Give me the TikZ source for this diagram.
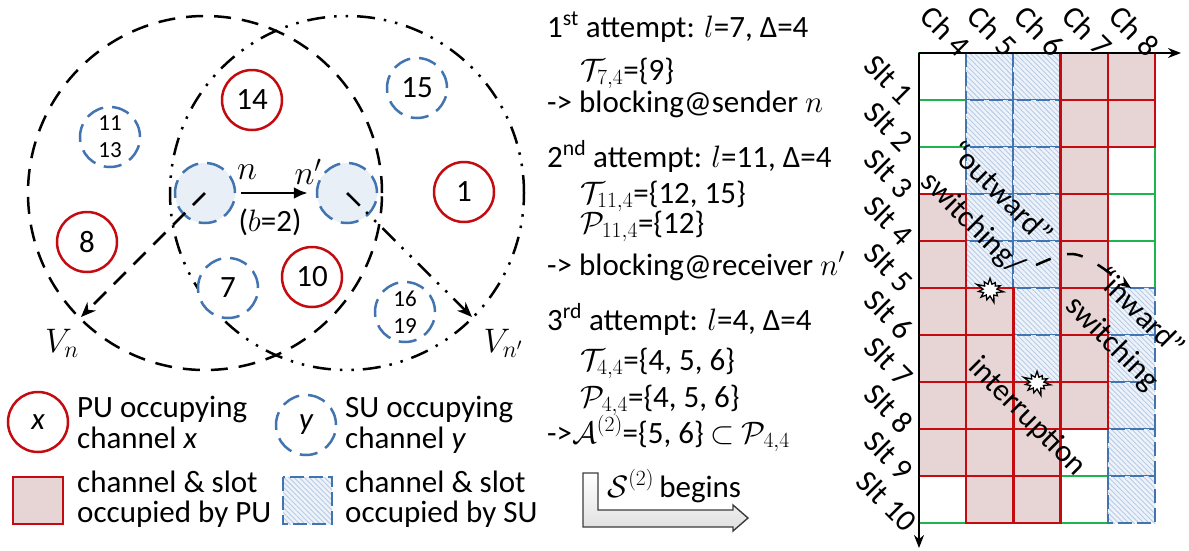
\RequirePackage{fix-cm}
\documentclass[tikz,border=0pt]{standalone}
\usepackage{fontspec}
\setmainfont{Carlito}
\usetikzlibrary{arrows.meta,patterns.meta,shapes.symbols}

\definecolor{pured}{RGB}{196,12,16}
\definecolor{pufill}{RGB}{231,213,213}
\definecolor{sublue}{RGB}{66,116,176}
\definecolor{subfill}{RGB}{238,243,250}
\definecolor{suhatch}{RGB}{182,203,231}
\definecolor{endfill}{RGB}{233,239,247}
\definecolor{freegreen}{RGB}{30,180,80}
\definecolor{arrowedge}{RGB}{60,60,60}

\begin{document}
\begin{tikzpicture}[x=1pt,y=-1pt,
  txt/.style={font=\fontsize{31}{33}\selectfont, inner sep=0pt},
  mlbl/.style={font=\fontsize{34}{36}\selectfont, inner sep=0pt},
  pu/.style={circle, draw=pured, line width=2.5pt, fill=white, minimum size=60pt,
    inner sep=0pt, font=\fontsize{31}{31}\selectfont},
  su/.style={circle, draw=sublue, line width=2.5pt, dash pattern=on 18pt off 9pt,
    fill=white, minimum size=60pt, inner sep=0pt, font=\fontsize{31}{31}\selectfont},
  sutwo/.style={su, font=\fontsize{23}{27}\selectfont, align=center},
  endpt/.style={su, fill=endfill},
  rangeA/.style={black, line width=2.5pt, dash pattern=on 17pt off 11pt},
  rangeB/.style={black, line width=2.5pt,
    dash pattern=on 18pt off 9pt on 2.5pt off 9pt on 2.5pt off 9pt},
  pucell/.style={draw=pured, fill=pufill, line width=2.3pt},
  sucell/.style={preaction={fill=subfill},
    pattern={Lines[angle=-45,distance=3.6pt,line width=0.9pt]},
    pattern color=suhatch, draw=sublue, line width=2pt, dash pattern=on 14pt off 5pt},
  freecell/.style={draw=freegreen, line width=2pt},
  rot/.style={rotate=-45, font=\fontsize{31}{31}\selectfont, inner sep=0pt},
  burst/.style={starburst, draw, fill=white, line width=1.3pt, minimum width=30pt,
    minimum height=28pt, starburst point height=8pt, starburst points=11}
]
\useasboundingbox (0,0) rectangle (1189,550);
\fill[white] (0,0) rectangle (1189,550);

% ---------------- transmission ranges of sender and receiver ----------------
\coordinate (nc) at (205,193);
\coordinate (npc) at (347,193);
\draw[rangeA] (nc) circle[radius=177pt];
\draw[rangeB] (npc) circle[radius=177pt];

% ---------------- users on channels ----------------
\node[pu] (p14) at (252,100) {14};
\node[su] (s15) at (417,88) {15};
\node[pu] (p1) at (464,192) {1};
\node[sutwo] (s1113) at (110,137) {11\\13};
\node[pu] (p8) at (87,242) {8};
\node[su] (s7) at (228,288) {7};
\node[pu] (p10) at (312,277) {10};
\node[sutwo] (s1619) at (405,312) {16\\19};

% sender n and receiver n'
\node[endpt] (n) at (nc) {};
\node[endpt] (np) at (npc) {};
\node[mlbl] (nlbl) at (247,172) {$n$};
\node[mlbl] (nplbl) at (308,172) {$n'$};
\node[txt] (blbl) at (270,222) {($b$=2)};
\draw[black, line width=2.8pt, -{Latex[length=14pt,width=12pt]},
  shorten <=5pt, shorten >=8pt] (n) -- (np);

\coordinate (vn) at (81,317);
\coordinate (vnp) at (472,317);
\draw[rangeA, -{Stealth[length=15pt,width=12pt]}] (nc) -- (vn);
\draw[rangeB, -{Stealth[length=15pt,width=12pt]}] (npc) -- (vnp);
\node[mlbl] (vnlbl) at (62,343) {$V_n$};
\node[mlbl] (vnplbl) at (503,343) {$V_{n'}$};

% ---------------- legend ----------------
\node[pu] (legpu) at (38,422) {\itshape x};
\node[txt, anchor=base west] (legpu1) at (77,417) {PU occupying};
\node[txt, anchor=base west] (legpu2) at (77,448) {channel \textit{x}};
\node[su] (legsu) at (306,425) {\itshape y};
\node[txt, anchor=base west] (legsu1) at (345,417) {SU occupying};
\node[txt, anchor=base west] (legsu2) at (345,448) {channel \textit{y}};
\draw[pucell, line width=2.5pt] (13,477) rectangle (63,524);
\node[txt, anchor=base west] (legpc1) at (77,492) {channel \& slot};
\node[txt, anchor=base west] (legpc2) at (77,522) {occupied by PU};
\draw[sucell, line width=2.5pt] (283,477) rectangle (332,524);
\node[txt, anchor=base west] (legsc1) at (345,492) {channel \& slot};
\node[txt, anchor=base west] (legsc2) at (345,522) {occupied by SU};

% ---------------- access attempts ----------------
\node[txt, anchor=base west] (t1) at (547,37) {1\textsuperscript{st} attempt: $l$=7, Δ=4};
\node[txt, anchor=base west] (t2) at (580,80) {$\mathcal{T}_{7,4}$=\{9\}};
\node[txt, anchor=base west] (t3) at (547,112) {-> blocking@sender $n$};
\node[txt, anchor=base west] (t4) at (547,167) {2\textsuperscript{nd} attempt: $l$=11, Δ=4};
\node[txt, anchor=base west] (t5) at (580,203) {$\mathcal{T}_{11,4}$=\{12, 15\}};
\node[txt, anchor=base west] (t6) at (580,233) {$\mathcal{P}_{11,4}$=\{12\}};
\node[txt, anchor=base west] (t7) at (547,275) {-> blocking@receiver $n'$};
\node[txt, anchor=base west] (t8) at (547,330) {3\textsuperscript{rd} attempt: $l$=4, Δ=4};
\node[txt, anchor=base west] (t9) at (580,370) {$\mathcal{T}_{4,4}$=\{4, 5, 6\}};
\node[txt, anchor=base west] (t10) at (580,407) {$\mathcal{P}_{4,4}$=\{4, 5, 6\}};
\node[txt, anchor=base west] (t11) at (547,443) {->$\mathcal{A}^{(2)}$=\{5, 6\} $\subset$ $\mathcal{P}_{4,4}$};
\node[txt, anchor=base west] (t12) at (607,497) {$\mathcal{S}^{(2)}$\,begins};
\draw[arrowedge, line width=1.4pt, top color=white, bottom color=gray!25]
  (583,473) -- (583,527) -- (733,527) -- (733,531) -- (748,518) -- (733,505)
  -- (733,510) -- (598,510) -- (598,473) -- cycle;

% ---------------- channel / slot grid ----------------
% free cells
\foreach \c/\r in {0/1,0/2,0/3,0/10,3/9,3/10,4/3,4/4,4/5}
  \draw[freecell] ({919+\c*47.2},{53+(\r-1)*47}) rectangle ++(47.2,47);
% cells used by secondary users
\foreach \c/\r in {1/1,1/2,1/3,1/4,1/5,2/1,2/2,2/3,2/4,2/5,2/6,2/7,4/6,4/7,4/8,4/9,4/10}
  \draw[sucell] ({919+\c*47.2},{53+(\r-1)*47}) rectangle ++(47.2,47);
% cells used by primary users
\foreach \c/\r in {3/1,3/2,3/3,3/4,3/5,3/6,3/7,3/8,4/1,4/2,0/4,0/5,0/6,0/7,0/8,0/9,
                   1/6,1/7,1/8,1/9,1/10,2/8,2/9,2/10}
  \draw[pucell] ({919+\c*47.2},{53+(\r-1)*47}) rectangle ++(47.2,47);

\coordinate (origin) at (919,53);
\coordinate (chend) at (1181,53);
\coordinate (sltend) at (919,548);
\draw[black, line width=2pt, -{Stealth[length=13pt,width=10pt]}] (origin) -- (chend);
\draw[black, line width=2pt, -{Stealth[length=13pt,width=10pt]}] (origin) -- (sltend);

\foreach \c in {0,...,4} {
  \pgfmathtruncatemacro\ch{\c+4}
  \node[rot] (ch\ch) at ({919+(\c+0.5)*47.2+3},31) {Ch \ch};
}
\foreach \r in {1,...,9}
  \node[rot] (slt\r) at (889,{53+(\r-0.5)*47+3}) {Slt \r};
\node[rot] (slt10) at (887,501) {Slt 10};

\node[rot] (outw1) at (1002,192) {“outward”};
\node[rot] (outw2) at (972,224) {switching/};
\node[rot] (inw1) at (1141,311) {“inward”};
\node[rot] (inw2) at (1112,344) {switching};
\node[rot] (intr) at (1027,417) {interruption};

\node[burst] (hit1) at (990,290) {};
\node[burst] (hit2) at (1037,383) {};

\coordinate (swA) at (1036,265);
\coordinate (swB) at (1131,288);
\draw[black, line width=2.5pt, dash pattern=on 16pt off 17pt,
  -{Stealth[length=13pt,width=10pt]}] (swA) .. controls (1075,248) .. (swB);
\end{tikzpicture}
\end{document}
